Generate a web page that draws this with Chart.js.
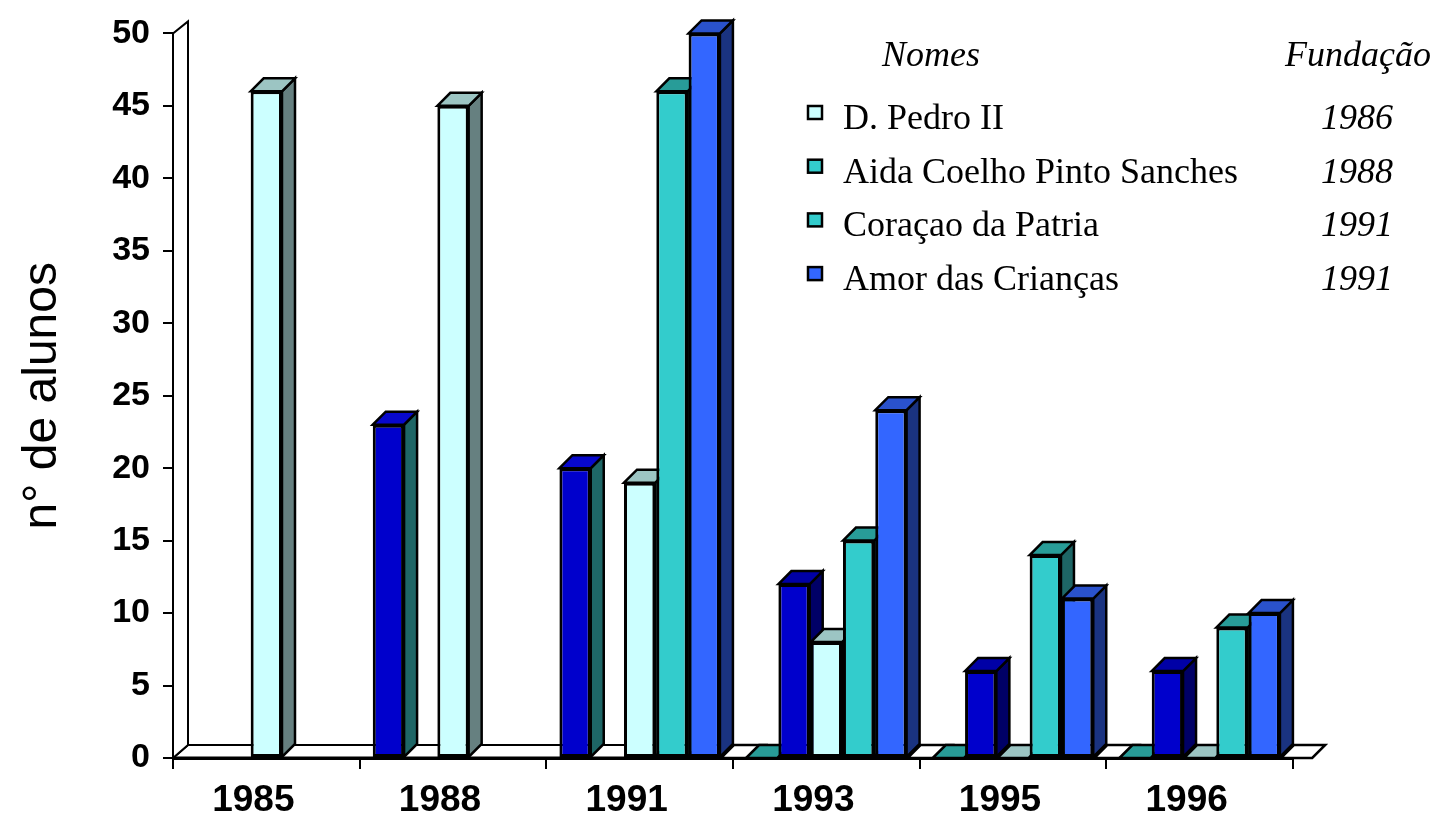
<!DOCTYPE html>
<html>
<head>
<meta charset="utf-8">
<script src="https://cdn.jsdelivr.net/npm/chart.js@4"></script>
<style>
	html, body { margin: 0; padding: 0; background: #fff; }
	canvas { display: block; }
</style>
</head>
<body>
<canvas id="grafico" width="1439" height="821"></canvas>
<script>
const anos = ['1985', '1988', '1991', '1993', '1995', '1996'];

// one array per column slot inside each year, left to right
const vazia        = [null, null, null, null, null, null];
const azulAntigo   = [null, 23, 20, 0, 0, 0];
const azulNovo     = [null, null, null, 12, 6, 6];
const dPedro       = [46, 45, 19, 8, 0, 0];
const coracao      = [null, null, 46, 15, 14, 9];
const amor         = [null, null, 50, 24, 11, 10];
const branca       = [null, null, 0, 0, 0, 0];

const nomes = ['D. Pedro II', 'Aida Coelho Pinto Sanches', 'Coraçao da Patria', 'Amor das Crianças'];
const fundacao = ['1986', '1988', '1991', '1991'];
const coresNomes = ['#CCFFFF', '#33CCCC', '#33CCCC', '#3366FF'];

const ARIAL = '"Liberation Sans", Arial, sans-serif';
const TIMES = '"Liberation Serif", "Times New Roman", serif';
const PROF = 13; // bar depth

function cores(frente, topo, lado) {
	return { backgroundColor: frente, topo, lado };
}

const datasets = [
	{ data: vazia, ...cores('#fff', '#fff', '#fff') },
	{ data: azulAntigo, ...cores(
		['#0000CC', '#0000CC', '#0000CC', '#33CCCC', '#33CCCC', '#33CCCC'],
		['#0808CC', '#0808CC', '#0808CC', '#289C98', '#289C98', '#289C98'],
		['#1E6666', '#1E6666', '#1E6666', '#1E6666', '#1E6666', '#1E6666']) },
	{ data: azulNovo, ...cores('#0000CC', '#0000A6', '#000066') },
	{ data: dPedro, ...cores('#CCFFFF', '#9CC5C3', '#668080') },
	{ data: coracao, ...cores('#33CCCC', '#289C98', '#1E6666') },
	{ data: amor, ...cores('#3366FF', '#2A52CC', '#1A3380') },
	{ data: branca, ...cores('#FFFFFF', '#FFFFFF', '#FFFFFF') },
];

function poligono(ctx, pts, fill, lw) {
	ctx.beginPath();
	ctx.moveTo(pts[0][0], pts[0][1]);
	for (let i = 1; i < pts.length; i++) ctx.lineTo(pts[i][0], pts[i][1]);
	ctx.closePath();
	ctx.fillStyle = fill;
	ctx.fill();
	ctx.lineWidth = lw || 2;
	ctx.strokeStyle = '#000';
	ctx.stroke();
}

const pick = (v, i) => Array.isArray(v) ? v[i] : v;

// floor, side wall and the 3d faces of every column
const barras3d = {
	id: 'barras3d',
	beforeDatasetsDraw(chart) {
		const ctx = chart.ctx;
		const a = chart.chartArea;
		const y = chart.scales.y;
		const top = y.getPixelForValue(50), base = y.getPixelForValue(0);
		ctx.save();
		ctx.lineJoin = 'miter';
		poligono(ctx, [[a.left, base], [a.left + 15, base - 13], [a.right + 15, base - 13], [a.right, base]], '#fff', 2);
		poligono(ctx, [[a.left, base], [a.left, top], [a.left + 15, top - 12], [a.left + 15, base - 13]], '#fff', 2);
		ctx.beginPath();
		ctx.moveTo(a.left, base); ctx.lineTo(a.right, base);
		ctx.lineWidth = 3; ctx.stroke();

		const barras = [];
		chart.data.datasets.forEach((ds, di) => {
			chart.getDatasetMeta(di).data.forEach((el, i) => {
				if (ds.data[i] === null) return;
				barras.push({ el, ds, i });
			});
		});
		barras.sort((p, q) => p.el.x - q.el.x);
		barras.forEach(({ el, ds, i }) => {
			const { x, y: yt, base: yb, width } = el.getProps(['x', 'y', 'base', 'width'], true);
			const l = x - width / 2, r = x + width / 2;
			if (yt < yb) {
				poligono(ctx, [[r, yt], [r + PROF, yt - PROF], [r + PROF, yb - PROF], [r, yb]], pick(ds.lado, i), 2.5);
			}
			poligono(ctx, [[l, yt], [l + PROF, yt - PROF], [r + PROF, yt - PROF], [r, yt]], pick(ds.topo, i), 2.5);
			if (yt < yb) el.draw(ctx);
		});
		ctx.restore();
		return false;
	}
};

// name / year table in the upper right
const tabela = {
	id: 'tabela',
	afterDraw(chart) {
		const ctx = chart.ctx;
		ctx.save();
		ctx.fillStyle = '#000';
		ctx.textBaseline = 'alphabetic';
		ctx.font = 'italic 36px ' + TIMES;
		ctx.textAlign = 'left';
		ctx.fillText('Nomes', 882, 66);
		ctx.fillText('Fundação', 1285, 66);
		nomes.forEach((nome, i) => {
			const yb = 129 + i * 53.7;
			ctx.fillStyle = coresNomes[i];
			ctx.fillRect(808, yb - 23, 14, 13);
			ctx.lineWidth = 2.5;
			ctx.strokeStyle = '#000';
			ctx.strokeRect(808, yb - 23, 14, 13);
			ctx.fillStyle = '#000';
			ctx.font = '36px ' + TIMES;
			ctx.textAlign = 'left';
			ctx.fillText(nome, 843, yb);
			ctx.font = 'italic 36px ' + TIMES;
			ctx.textAlign = 'right';
			ctx.fillText(fundacao[i], 1393, yb);
		});
		ctx.restore();
	}
};

new Chart(document.getElementById('grafico'), {
	type: 'bar',
	data: {
		labels: anos,
		datasets: datasets.map(d => ({
			...d,
			borderColor: '#000',
			borderWidth: 3,
			borderSkipped: false,
			categoryPercentage: 1.211,
			barPercentage: 0.97
		}))
	},
	options: {
		responsive: false,
		animation: false,
		devicePixelRatio: 1,
		layout: { padding: { top: 30, right: 146, bottom: 0, left: 0 } },
		plugins: { legend: { display: false }, tooltip: { enabled: false } },
		scales: {
			x: {
				offset: true,
				grid: { offset: true, drawOnChartArea: false, tickLength: 11, color: '#000', lineWidth: 2 },
				border: { color: '#000', width: 3 },
				ticks: { color: '#000', font: { family: ARIAL, size: 37, weight: 'bold' }, labelOffset: -13, padding: 10, maxRotation: 0, autoSkip: false },
				afterFit: s => { s.height = 63; }
			},
			y: {
				min: 0,
				max: 50,
				grid: { drawOnChartArea: false, tickLength: 10, color: '#000', lineWidth: 2 },
				border: { color: '#000', width: 3 },
				ticks: { stepSize: 5, color: '#000', font: { family: ARIAL, size: 34, weight: 'bold' }, padding: 13 },
				title: { display: true, text: 'n° de alunos', color: '#000', font: { family: ARIAL, size: 48 }, padding: { top: 14, bottom: 0 } },
				afterFit: s => { s.width = 173; }
			}
		}
	},
	plugins: [barras3d, tabela]
});
</script>
</body>
</html>
